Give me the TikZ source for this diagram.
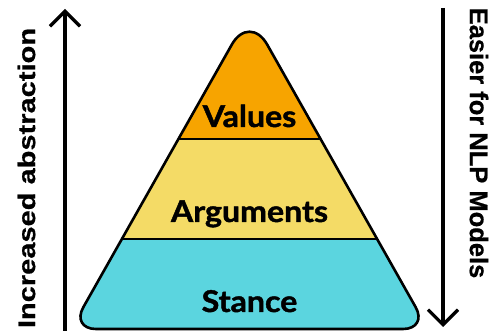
\documentclass[tikz,border=0pt]{standalone}
\usepackage{fontspec}
\setmainfont{Liberation Sans}[BoldFont={Liberation Sans Bold}, BoldFeatures={FakeBold=0.6}]
\newfontfamily\labfont{Lato}[BoldFont={Lato Bold}, BoldFeatures={FakeBold=1.4}]
\usetikzlibrary{arrows.meta,calc}
\definecolor{cTop}{HTML}{F7A400}
\definecolor{cMid}{HTML}{F4DB66}
\definecolor{cLow}{HTML}{5BD5DF}
\tikzset{
  axis/.style={line width=3.2pt, -{Straight Barb[length=15pt, width=30pt]}},
  side/.style={inner sep=0pt},
  level/.style={font=\labfont\bfseries\fontsize{30}{30}\selectfont, inner sep=0pt, anchor=base},
  outline/.style={line width=2.6pt, line join=round},
  divider/.style={line width=2.4pt},
}
\newcommand{\wide}[1]{\scalebox{1.07}[1]{#1}}

\begin{document}
\begin{tikzpicture}[x=1pt, y=1pt]
  \useasboundingbox (0,0) rectangle (494,331);
  % pyramid corners
  \coordinate (top) at (249.5,317.7);
  \coordinate (bl) at (71,2);
  \coordinate (br) at (428,2);
  \coordinate (bm) at (249.5,2);
  % where the rounding starts
  \coordinate (t1) at ($(top)!36pt!(br)$);
  \coordinate (t2) at ($(top)!36pt!(bl)$);
  \coordinate (l1) at ($(bl)!25pt!(top)$);
  \coordinate (l2) at ($(bl)!25pt!(bm)$);
  \coordinate (r1) at ($(br)!25pt!(bm)$);
  \coordinate (r2) at ($(br)!25pt!(top)$);
  % layers
  \begin{scope}
    \clip (bm) -- (r1) .. controls ($(r1)!0.55!(br)$) and ($(r2)!0.55!(br)$) .. (r2)
      -- (t1) .. controls ($(t1)!0.55!(top)$) and ($(t2)!0.55!(top)$) .. (t2)
      -- (l1) .. controls ($(l1)!0.55!(bl)$) and ($(l2)!0.55!(bl)$) .. (l2) -- cycle;
    \fill[cLow] (0,0) rectangle (494,331);
    \fill[cMid] (0,92) rectangle (494,331);
    \fill[cTop] (0,192) rectangle (494,331);
  \end{scope}
  \coordinate (d1l) at ($(top)!0.398!(bl)$);
  \coordinate (d1r) at ($(top)!0.398!(br)$);
  \coordinate (d2l) at ($(top)!0.715!(bl)$);
  \coordinate (d2r) at ($(top)!0.715!(br)$);
  \draw[divider] (d1l) -- (d1r);
  \draw[divider] (d2l) -- (d2r);
  \draw[outline] (bm) -- (r1) .. controls ($(r1)!0.55!(br)$) and ($(r2)!0.55!(br)$) .. (r2)
    -- (t1) .. controls ($(t1)!0.55!(top)$) and ($(t2)!0.55!(top)$) .. (t2)
    -- (l1) .. controls ($(l1)!0.55!(bl)$) and ($(l2)!0.55!(bl)$) .. (l2) -- cycle;
  % level labels
  \node[level] (values) at (249.5,204) {\wide{Values}};
  \node[level] (args) at (249.5,109) {\wide{Arguments}};
  \node[level] (stance) at (249.5,19) {\wide{Stance}};
  % side axes
  \coordinate (up0) at (65,0);
  \coordinate (up1) at (65,322);
  \coordinate (dn0) at (443,323);
  \coordinate (dn1) at (443,4);
  \draw[axis] (up0) -- (up1);
  \draw[axis] (dn0) -- (dn1);
  \node[side, rotate=90, font=\bfseries\fontsize{24}{24}\selectfont] (abstr) at (26.5,153) {\scalebox{1.21}[1]{Increased abstraction}};
  \node[side, rotate=-90, font=\bfseries\fontsize{25.5}{25.5}\selectfont] (easy) at (479,188) {Easier for NLP Models};
\end{tikzpicture}
\end{document}
